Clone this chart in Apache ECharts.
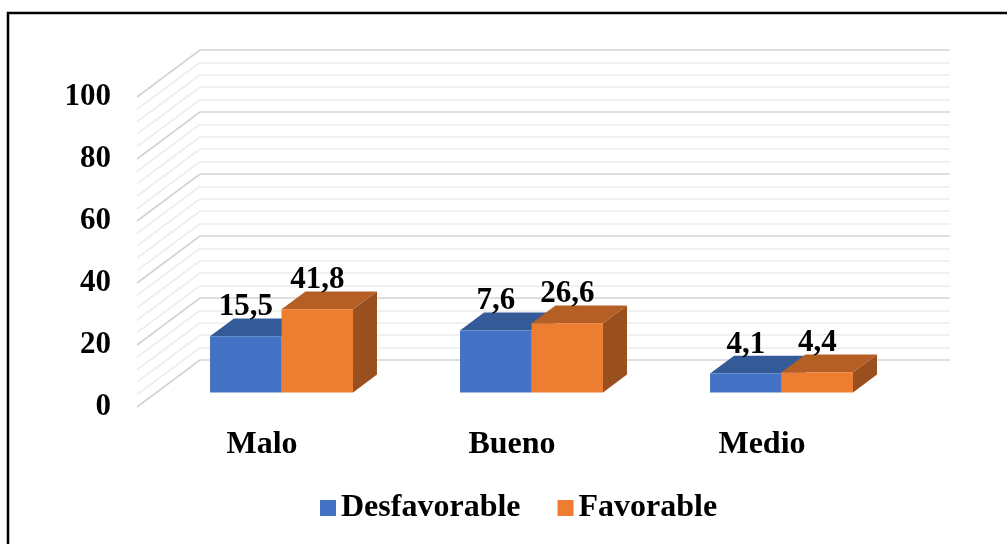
<!DOCTYPE html>
<html>
<head>
<meta charset="utf-8">
<script src="https://cdn.jsdelivr.net/npm/echarts@6/dist/echarts.min.js"></script>
<style>
  html, body { margin: 0; padding: 0; background: #fff; }
  #chart { width: 1007px; height: 544px; }
</style>
</head>
<body>
<div id="chart"></div>
<script>
// datos
const categories = ['Malo', 'Bueno', 'Medio']
const seriesNames = ['Desfavorable', 'Favorable']
// altura de las barras tal como aparecen dibujadas
const desfavorableBars = [18.1, 20.0, 6.1]
const favorableBars = [26.8, 22.3, 6.5]
// etiquetas impresas sobre las barras
const desfavorableLabels = ['15,5', '7,6', '4,1']
const favorableLabels = ['41,8', '26,6', '4,4']

const FONT = "'Liberation Serif', 'Times New Roman', serif"
// profundidad del muro lateral (pseudo 3D)
const WALL_DX = 63
const WALL_DY = -47
const DEPTH_FRONT = 0.31
const DEPTH_SIZE = 0.38
const BAR_FRAC = 0.286

const faces = [
  { front: '#4472C4', top: '#345A97', side: '#2F528F' },
  { front: '#ED7D31', top: '#B65F24', side: '#9A4F1E' }
]

function barRenderer(slot, labels) {
  return function(params, api) {
    const idx = api.value(0)
    const base = api.coord([idx, 0])
    const top = api.coord([idx, api.value(1)])
    const band = api.size([1, 0])[0]
    const w = band * BAR_FRAC
    const x0 = base[0] - w + slot * w + WALL_DX * DEPTH_FRONT
    const yb = base[1] + WALL_DY * DEPTH_FRONT
    const yt = top[1] + WALL_DY * DEPTH_FRONT
    const dx = WALL_DX * DEPTH_SIZE
    const dy = WALL_DY * DEPTH_SIZE
    const f = faces[slot]
    return {
      type: 'group',
      children: [
        {
          type: 'polygon',
          shape: { points: [[x0 + w, yt], [x0 + w + dx, yt + dy], [x0 + w + dx, yb + dy], [x0 + w, yb]] },
          style: { fill: f.side }
        },
        {
          type: 'polygon',
          shape: { points: [[x0, yt], [x0 + w, yt], [x0 + w + dx, yt + dy], [x0 + dx, yt + dy]] },
          style: { fill: f.top }
        },
        {
          type: 'rect',
          shape: { x: x0, y: yt, width: w, height: yb - yt },
          style: { fill: f.front }
        },
        {
          type: 'text',
          z2: 50,
          style: {
            x: x0 + w / 2,
            y: yt - 29,
            text: labels[idx],
            align: 'center',
            verticalAlign: 'middle',
            fill: '#000',
            font: 'bold 31px ' + FONT
          }
        }
      ]
    }
  }
}

// lineas diagonales del muro izquierdo
function wallRenderer(params, api) {
  const v = api.value(1)
  const p = api.coord([0, v])
  const x = params.coordSys.x
  const major = v % 20 === 0
  return {
    type: 'line',
    silent: true,
    shape: { x1: x, y1: p[1], x2: x + WALL_DX, y2: p[1] + WALL_DY },
    style: { stroke: major ? '#d4d4d4' : '#ececec', lineWidth: 1.6 }
  }
}

const wallTicks = []
for (let v = 0; v <= 100; v += 4) wallTicks.push([0, v])

const chart = echarts.init(document.getElementById('chart'))

const option = {
  animation: false,
  backgroundColor: '#fff',
  color: [faces[0].front, faces[1].front],
  legend: {
    data: seriesNames,
    left: 320,
    top: 492,
    padding: 0,
    itemWidth: 16,
    itemHeight: 16,
    itemGap: 37,
    icon: 'rect',
    textStyle: { fontFamily: FONT, fontWeight: 'bold', fontSize: 32, color: '#000', lineHeight: 32 }
  },
  grid: [
    { left: 137, top: 97, width: 750, height: 310 },
    { left: 200, top: 50, width: 750, height: 310 }
  ],
  xAxis: [
    {
      type: 'category',
      gridIndex: 0,
      data: categories,
      axisLine: { show: false },
      axisTick: { show: false },
      axisLabel: {
        margin: 38,
        verticalAlign: 'middle',
        fontFamily: FONT,
        fontWeight: 'bold',
        fontSize: 32,
        color: '#000'
      }
    },
    {
      type: 'category',
      gridIndex: 1,
      data: categories,
      show: false
    }
  ],
  yAxis: [
    {
      type: 'value',
      gridIndex: 0,
      min: 0,
      max: 100,
      interval: 20,
      axisLine: { show: false },
      axisTick: { show: false },
      splitLine: { show: false },
      axisLabel: {
        margin: 26,
        fontFamily: FONT,
        fontWeight: 'bold',
        fontSize: 31,
        color: '#000'
      }
    },
    {
      type: 'value',
      gridIndex: 1,
      min: 0,
      max: 100,
      interval: 20,
      axisLine: { show: false },
      axisTick: { show: false },
      axisLabel: { show: false },
      splitLine: { lineStyle: { color: '#d4d4d4', width: 1.6 } },
      minorTick: { show: false, splitNumber: 5 },
      minorSplitLine: { show: true, lineStyle: { color: '#ececec', width: 1.6 } }
    }
  ],
  graphic: [
    {
      type: 'rect',
      z: 100,
      silent: true,
      shape: { x: 8, y: 13, width: 1200, height: 700 },
      style: { fill: 'none', stroke: '#000', lineWidth: 2.5 }
    }
  ],
  series: [
    {
      type: 'custom',
      name: 'wall',
      xAxisIndex: 0,
      yAxisIndex: 0,
      z: 1,
      silent: true,
      renderItem: wallRenderer,
      data: wallTicks
    },
    {
      type: 'custom',
      name: seriesNames[0],
      xAxisIndex: 0,
      yAxisIndex: 0,
      itemStyle: { color: faces[0].front },
      renderItem: barRenderer(0, desfavorableLabels),
      data: desfavorableBars.map((v, i) => [i, v])
    },
    {
      type: 'custom',
      name: seriesNames[1],
      xAxisIndex: 0,
      yAxisIndex: 0,
      itemStyle: { color: faces[1].front },
      renderItem: barRenderer(1, favorableLabels),
      data: favorableBars.map((v, i) => [i, v])
    }
  ]
}

chart.setOption(option)
</script>
</body>
</html>
